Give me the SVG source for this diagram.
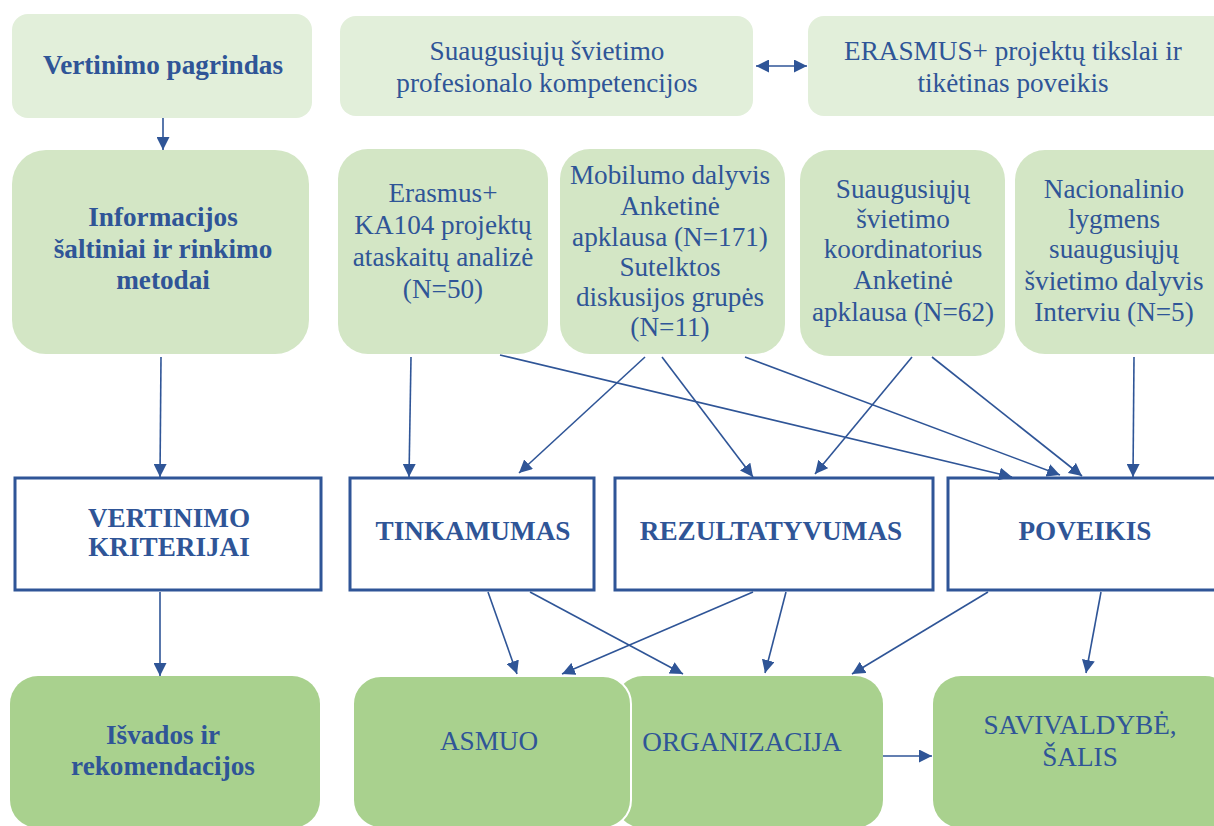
<svg xmlns="http://www.w3.org/2000/svg" width="1214" height="826" viewBox="0 0 1214 826">
<style>
text{font-family:'Liberation Serif','Times New Roman',Times,serif}
.t{font-size:27.2px;fill:#2f5597;text-anchor:middle}
.b{font-weight:bold}
.top{fill:#e2efda}
.mid{fill:#d3e6c5}
.bot{fill:#a9d18e}
.crit{fill:#ffffff;stroke:#2f5597;stroke-width:3}
.c{stroke:#2f5597;stroke-width:1.6;fill:none;marker-end:url(#ah)}
</style>
<defs>
<marker id="ah" markerUnits="userSpaceOnUse" markerWidth="14" markerHeight="13" refX="13" refY="6.5" orient="auto-start-reverse">
<path d="M0,0 L13,6.5 L0,13 z" fill="#2f5597"/>
</marker>
</defs>
<rect width="1214" height="826" fill="#ffffff"/>

<g id="n-pagrindas">
<rect class="top" x="12" y="14" width="300" height="104" rx="16"/>
<text class="t b" x="163" y="74">Vertinimo pagrindas</text>
</g>
<g id="n-kompetencijos">
<rect class="top" x="340" y="16" width="413" height="100" rx="16"/>
<text class="t" x="547" y="60">Suaugusiųjų švietimo</text>
<text class="t" x="547" y="92">profesionalo kompetencijos</text>
</g>
<g id="n-erasmus-tikslai">
<rect class="top" x="808" y="16" width="420" height="100" rx="16"/>
<text class="t" x="1013" y="60">ERASMUS+ projektų tikslai ir</text>
<text class="t" x="1013" y="92">tikėtinas poveikis</text>
</g>

<g id="n-informacijos">
<rect class="mid" x="12" y="150" width="297" height="204" rx="34"/>
<text class="t b" x="163" y="226">Informacijos</text>
<text class="t b" x="163" y="258">šaltiniai ir rinkimo</text>
<text class="t b" x="163" y="289">metodai</text>
</g>
<g id="n-ka104">
<rect class="mid" x="338" y="149" width="210" height="205" rx="30"/>
<text class="t" x="443" y="202">Erasmus+</text>
<text class="t" x="443" y="234">KA104 projektų</text>
<text class="t" x="443" y="266">ataskaitų analizė</text>
<text class="t" x="443" y="298">(N=50)</text>
</g>
<g id="n-mobilumo">
<rect class="mid" x="560" y="149" width="225" height="205" rx="30"/>
<text class="t" x="670" y="184">Mobilumo dalyvis</text>
<text class="t" x="670" y="215">Anketinė</text>
<text class="t" x="670" y="246">apklausa (N=171)</text>
<text class="t" x="670" y="276">Sutelktos</text>
<text class="t" x="670" y="306">diskusijos grupės</text>
<text class="t" x="670" y="336">(N=11)</text>
</g>
<g id="n-koordinatorius">
<rect class="mid" x="800" y="150" width="205" height="206" rx="30"/>
<text class="t" x="903" y="198">Suaugusiųjų</text>
<text class="t" x="903" y="228">švietimo</text>
<text class="t" x="903" y="258">koordinatorius</text>
<text class="t" x="903" y="289">Anketinė</text>
<text class="t" x="903" y="321">apklausa (N=62)</text>
</g>
<g id="n-nacionalinio">
<rect class="mid" x="1015" y="150" width="230" height="204" rx="30"/>
<text class="t" x="1114" y="198">Nacionalinio</text>
<text class="t" x="1114" y="228">lygmens</text>
<text class="t" x="1114" y="258">suaugusiųjų</text>
<text class="t" x="1114" y="290">švietimo dalyvis</text>
<text class="t" x="1114" y="321">Interviu (N=5)</text>
</g>

<g id="n-kriterijai">
<rect class="crit" x="15" y="478" width="306" height="112"/>
<text class="t b" x="169" y="527">VERTINIMO</text>
<text class="t b" x="169" y="556">KRITERIJAI</text>
</g>
<g id="n-tinkamumas">
<rect class="crit" x="350" y="478" width="244" height="112"/>
<text class="t b" x="473" y="540">TINKAMUMAS</text>
</g>
<g id="n-rezultatyvumas">
<rect class="crit" x="615" y="478" width="318" height="112"/>
<text class="t b" x="771" y="540">REZULTATYVUMAS</text>
</g>
<g id="n-poveikis">
<rect class="crit" x="948" y="478" width="280" height="112"/>
<text class="t b" x="1085" y="540">POVEIKIS</text>
</g>

<g id="n-isvados">
<rect class="bot" x="10" y="676" width="310" height="152" rx="28"/>
<text class="t b" x="163" y="744">Išvados ir</text>
<text class="t b" x="163" y="775">rekomendacijos</text>
</g>
<g id="n-organizacija">
<rect class="bot" x="615" y="676" width="268" height="152" rx="28"/>
<text class="t" x="742" y="751">ORGANIZACIJA</text>
</g>
<g id="n-asmuo">
<rect class="bot" x="353" y="676" width="278" height="152" rx="28" stroke="#ffffff" stroke-width="2"/>
<text class="t" x="489" y="750">ASMUO</text>
</g>
<g id="n-savivaldybe">
<rect class="bot" x="933" y="676" width="300" height="152" rx="28"/>
<text class="t" x="1080" y="734">SAVIVALDYBĖ,</text>
<text class="t" x="1080" y="766">ŠALIS</text>
</g>

<g id="connectors">
<line class="c" x1="163" y1="118" x2="163" y2="150"/>
<line class="c" x1="756" y1="66" x2="807" y2="66" marker-start="url(#ah)"/>
<line class="c" x1="161" y1="357" x2="160" y2="477"/>
<line class="c" x1="160" y1="592" x2="160" y2="676"/>
<line class="c" x1="411" y1="357" x2="409" y2="477"/>
<line class="c" x1="500" y1="355" x2="1012" y2="477"/>
<line class="c" x1="645" y1="357" x2="519" y2="473"/>
<line class="c" x1="662" y1="357" x2="753" y2="477"/>
<line class="c" x1="745" y1="357" x2="1060" y2="475"/>
<line class="c" x1="912" y1="357" x2="815" y2="474"/>
<line class="c" x1="932" y1="357" x2="1082" y2="476"/>
<line class="c" x1="1134" y1="357" x2="1133" y2="477"/>
<line class="c" x1="488" y1="592" x2="517" y2="674"/>
<line class="c" x1="530" y1="592" x2="683" y2="674"/>
<line class="c" x1="753" y1="592" x2="562" y2="674"/>
<line class="c" x1="786" y1="592" x2="765" y2="673"/>
<line class="c" x1="988" y1="592" x2="852" y2="674"/>
<line class="c" x1="1101" y1="592" x2="1086" y2="673"/>
<line class="c" x1="883" y1="756" x2="932" y2="756"/>
</g>
</svg>
